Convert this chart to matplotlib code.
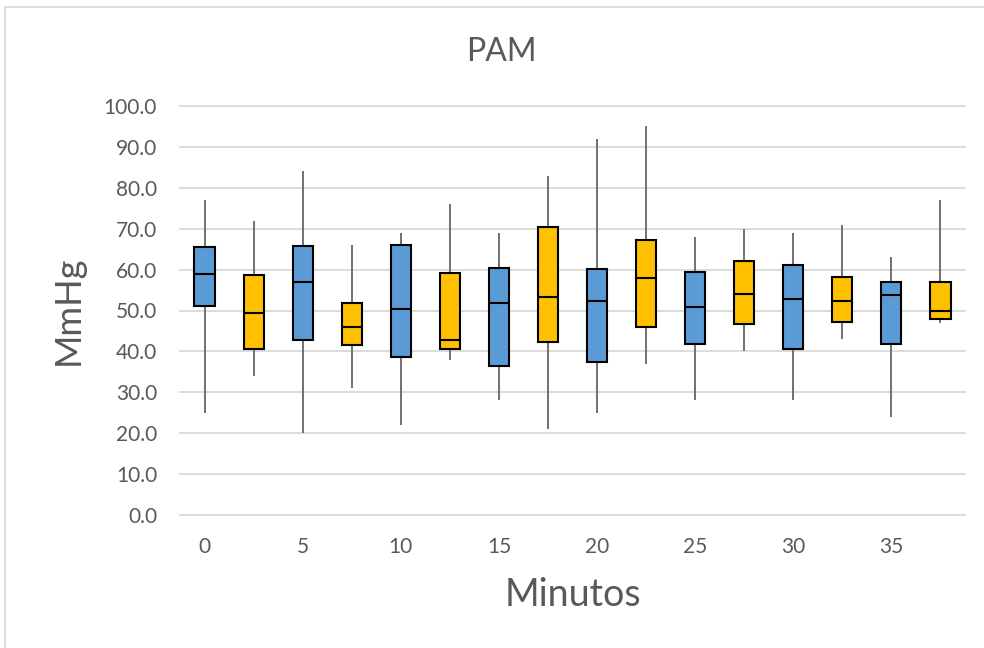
import matplotlib
matplotlib.use("Agg")
import matplotlib.pyplot as plt
from matplotlib.patches import Rectangle

# Data
categories = ["0", "", "5", "", "10", "", "15", "", "20", "", "25", "", "30", "", "35", ""]
whisker_low = [25, 34, 20, 31, 22, 38, 28, 21, 25, 37, 28, 40, 28, 43, 24, 47]
q1 = [51.0, 40.7, 42.7, 41.6, 38.7, 40.5, 36.4, 42.4, 37.4, 45.9, 41.9, 46.7, 40.7, 47.2, 41.9, 47.9]
median = [58.9, 49.5, 56.9, 46.0, 50.3, 42.9, 51.9, 53.4, 52.4, 57.9, 50.9, 54.0, 52.9, 52.4, 53.9, 49.9]
q3 = [65.5, 58.7, 65.7, 51.9, 65.9, 59.1, 60.4, 70.4, 60.1, 67.2, 59.3, 62.0, 61.1, 58.1, 56.9, 56.9]
whisker_high = [77, 72, 84, 66, 69, 76, 69, 83, 92, 95, 68, 70, 69, 71, 63, 77]
series_colors = ["#5B9BD5", "#FFC000"]
y_ticks = [0, 10, 20, 30, 40, 50, 60, 70, 80, 90, 100]

title = "PAM"
x_label = "Minutos"
y_label = "MmHg"

plt.rcParams["font.family"] = ["Lato", "DejaVu Sans"]
text_color = "#595959"

W, H = 984, 648
fig = plt.figure(figsize=(W / 100, H / 100), dpi=100)

# outer chart frame
fig.patches.append(Rectangle((5 / W, -0.1), 1.2, 1.1 - 7 / H, transform=fig.transFigure,
                             fill=False, edgecolor="#D9D9D9", linewidth=1.2))

left, right = 180 / W, 965 / W
bottom, top = 1 - 515 / H, 1 - 106 / H
ax = fig.add_axes([left, bottom, right - left, top - bottom])

stats = []
for i in range(len(categories)):
    stats.append(dict(whislo=whisker_low[i], q1=q1[i], med=median[i], q3=q3[i],
                      whishi=whisker_high[i], label=categories[i]))

positions = list(range(len(categories)))
bp = ax.bxp(stats, positions=positions, widths=0.41, showfliers=False, showcaps=False,
            patch_artist=True,
            boxprops=dict(edgecolor="black", linewidth=1.5),
            medianprops=dict(color="black", linewidth=1.5),
            whiskerprops=dict(color="#666666", linewidth=1.3, solid_capstyle="butt"))
for i, box in enumerate(bp["boxes"]):
    box.set_facecolor(series_colors[i % 2])
    box.set_zorder(3)
for m in bp["medians"]:
    m.set_zorder(4)
for w in bp["whiskers"]:
    w.set_zorder(2)

ax.set_xlim(-0.5, len(categories) - 0.5)
ax.set_ylim(0, 100)
ax.set_yticks(y_ticks)
ax.set_yticklabels([f"{v:.1f}" for v in y_ticks])
ax.set_xticks(positions)
ax.set_xticklabels(categories)

for s in ax.spines.values():
    s.set_visible(False)
ax.tick_params(axis="both", length=0, labelsize=15, labelcolor=text_color)
ax.tick_params(axis="y", pad=16.5)
ax.tick_params(axis="x", pad=16)
ax.yaxis.grid(True, color="#D9D9D9", linewidth=1.3)
ax.set_axisbelow(True)
for gl in ax.get_ygridlines():
    gl.set_clip_on(False)

fig.text(501 / W, 1 - 52 / H, title, ha="center", va="center", fontsize=23, color=text_color)
fig.text(573 / W, 1 - 595 / H, x_label, ha="center", va="center", fontsize=27, color=text_color)
fig.text(68 / W, 1 - 310 / H, y_label, ha="center", va="center", rotation=90, fontsize=26,
         color=text_color)

fig.savefig("out.png", dpi=100)
